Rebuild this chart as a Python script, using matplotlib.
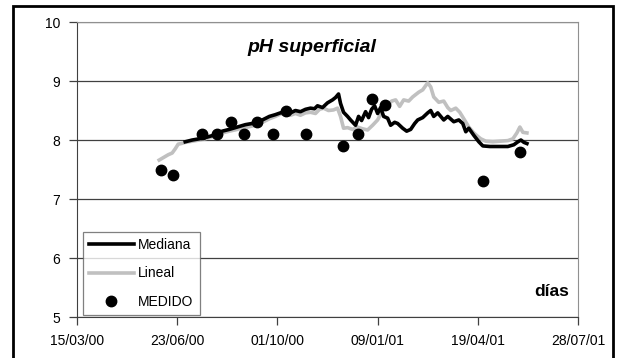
import datetime as dt
import matplotlib
matplotlib.use('Agg')
import matplotlib.pyplot as plt
import matplotlib.dates as mdates
from matplotlib.patches import Rectangle

plt.rcParams['font.family'] = ['Liberation Sans', 'DejaVu Sans']

inicio = dt.date(2000, 3, 15)

# días contados desde el 15/03/00
dias_lineal = [82, 86, 91, 95, 98, 101, 104, 108, 115, 122, 130, 138, 145, 152, 160, 168,
               178, 185, 192, 198, 203, 208, 213, 218, 223, 228, 233, 238, 242, 246, 251,
               256, 260, 263, 266, 270, 275, 280, 285, 290, 295, 300, 305, 310, 314, 318,
               322, 326, 331, 335, 341, 345, 350, 353, 356, 361, 366, 370, 373, 378, 382,
               386, 391, 396, 400, 403, 408, 415, 422, 430, 435, 439, 442, 445, 449]
ph_lineal = [7.66, 7.70, 7.75, 7.78, 7.85, 7.93, 7.94, 7.96, 7.98, 8.00, 8.03, 8.07, 8.12,
             8.15, 8.18, 8.21, 8.25, 8.30, 8.36, 8.40, 8.44, 8.46, 8.42, 8.45, 8.42, 8.46,
             8.47, 8.45, 8.52, 8.54, 8.50, 8.51, 8.54, 8.40, 8.20, 8.21, 8.18, 8.22, 8.19,
             8.17, 8.25, 8.34, 8.50, 8.58, 8.66, 8.68, 8.57, 8.68, 8.66, 8.73, 8.81, 8.85,
             8.97, 8.90, 8.73, 8.64, 8.66, 8.55, 8.50, 8.54, 8.47, 8.36, 8.22, 8.12, 8.06,
             8.02, 7.98, 7.97, 7.98, 7.99, 8.02, 8.12, 8.22, 8.13, 8.12]

dias_mediana = [108, 115, 122, 130, 138, 145, 152, 160, 168, 178, 185, 192, 198, 203, 208,
                213, 218, 223, 228, 233, 237, 240, 245, 250, 255, 258, 261, 263, 266, 270,
                273, 278, 281, 284, 288, 291, 294, 297, 300, 303, 306, 310, 313, 317, 320,
                325, 329, 333, 337, 340, 345, 350, 353, 356, 360, 363, 366, 370, 376, 381,
                385, 388, 391, 396, 401, 405, 412, 420, 430, 436, 440, 443, 446, 449]
ph_mediana = [7.97, 8.00, 8.02, 8.05, 8.09, 8.15, 8.18, 8.22, 8.26, 8.29, 8.34, 8.40, 8.43,
              8.46, 8.48, 8.46, 8.50, 8.48, 8.52, 8.54, 8.53, 8.58, 8.55, 8.63, 8.68, 8.72,
              8.78, 8.62, 8.47, 8.40, 8.34, 8.25, 8.40, 8.33, 8.48, 8.38, 8.52, 8.58, 8.45,
              8.55, 8.40, 8.37, 8.25, 8.30, 8.28, 8.20, 8.15, 8.18, 8.28, 8.34, 8.38, 8.46,
              8.50, 8.40, 8.46, 8.40, 8.34, 8.40, 8.31, 8.34, 8.28, 8.14, 8.20, 8.08, 7.97,
              7.90, 7.89, 7.89, 7.89, 7.92, 7.97, 8.00, 7.96, 7.94]

dias_medido = [84, 96, 125, 140, 154, 167, 180, 196, 209, 229, 265, 280, 294, 307, 405, 442]
ph_medido = [7.5, 7.4, 8.1, 8.1, 8.3, 8.1, 8.3, 8.1, 8.5, 8.1, 7.9, 8.1, 8.7, 8.6, 7.3, 7.8]


def fechas(dias):
    return [inicio + dt.timedelta(days=d) for d in dias]


fig = plt.figure(figsize=(6.18, 3.58), dpi=100)
ax = fig.add_axes([0.1246, 0.1145, 0.8107, 0.824])

# la mediana va encima pero en la leyenda primero
ax.plot(fechas(dias_mediana), ph_mediana, color='black', lw=2.6, label='Mediana', zorder=3)
ax.plot(fechas(dias_lineal), ph_lineal, color='#c0c0c0', lw=2.6, label='Lineal', zorder=2)
ax.plot(fechas(dias_medido), ph_medido, 'o', color='black', ms=7.5, label='MEDIDO', zorder=4)

ax.set_xlim(inicio, inicio + dt.timedelta(days=500))
ax.set_ylim(5, 10)
ax.set_xticks(fechas(range(0, 501, 100)))
ax.xaxis.set_major_formatter(mdates.DateFormatter('%d/%m/%y'))
ax.set_yticks(range(5, 11))
ax.yaxis.grid(True, color='#404040', lw=0.9)
ax.set_axisbelow(True)

ax.tick_params(axis='both', direction='out', length=6, width=0.9, color='#404040',
               labelsize=10, pad=6)
for lado in ['top', 'right']:
    ax.spines[lado].set_color('#909090')
for lado in ['left', 'bottom']:
    ax.spines[lado].set_color('#404040')

ax.text(0.468, 0.915, 'pH superficial', transform=ax.transAxes, ha='center', va='center',
        fontsize=14, fontweight='bold', fontstyle='italic')
ax.text(0.983, 0.085, 'días', transform=ax.transAxes, ha='right', va='center',
        fontsize=12.5, fontweight='bold')

leg = ax.legend(loc='lower left', bbox_to_anchor=(0.012, 0.006), fontsize=10,
                frameon=True, fancybox=False, handlelength=3.2, handletextpad=0.3,
                labelspacing=1.05, borderpad=0.45, borderaxespad=0)
leg.get_frame().set_edgecolor('#606060')
leg.get_frame().set_linewidth(0.9)

# marco exterior
fig.patches.append(Rectangle((0.021, -0.02), 0.971, 1.003, transform=fig.transFigure,
                             fill=False, edgecolor='black', lw=2))

fig.savefig('out.png', dpi=100)
